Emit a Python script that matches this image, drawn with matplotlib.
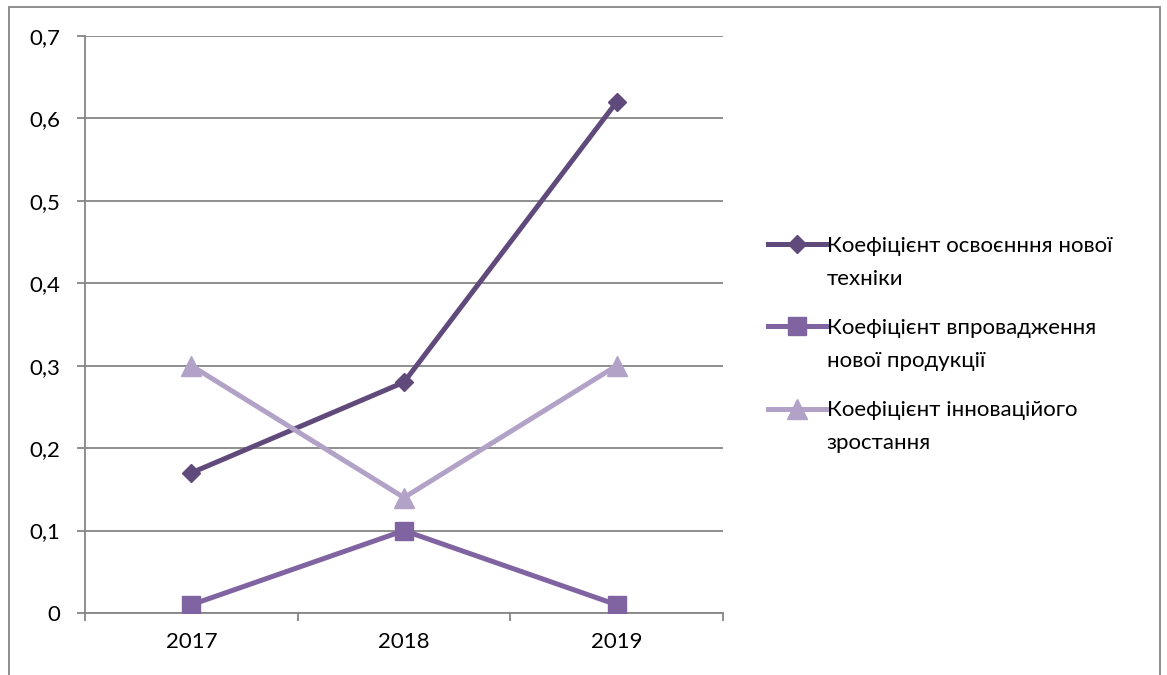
import matplotlib
matplotlib.use('Agg')
from matplotlib import pyplot as plt
from matplotlib.patches import Rectangle
from matplotlib.transforms import IdentityTransform

# дані з графіка
years = ['2017', '2018', '2019']
osvoennya = [0.17, 0.28, 0.62]
vprovadzh = [0.01, 0.10, 0.01]
innov = [0.30, 0.14, 0.30]
labels = ['Коефіцієнт освоєнння нової', 'Коефіцієнт впровадження', 'Коефіцієнт інноваційого']
labels2 = ['техніки', 'нової продукції', 'зростання']
y_ticks = [0, 0.1, 0.2, 0.3, 0.4, 0.5, 0.6, 0.7]

plt.rcParams['font.family'] = ['Lato', 'DejaVu Sans']

fig = plt.figure(figsize=(11.67, 6.75), dpi=100)
ax = fig.add_axes([85 / 1167, 1 - 613 / 675, (723 - 85) / 1167, (613 - 36) / 675])

x = [0.5, 1.5, 2.5]
ax.plot(x, osvoennya, color='#604A7B', lw=3.6, marker='D', ms=9, label=labels[0], zorder=3)
ax.plot(x, vprovadzh, color='#8064A2', lw=3.6, marker='s', ms=13, label=labels[1], zorder=3)
ax.plot(x, innov, color='#B3A2C7', lw=3.6, marker='^', ms=14, label=labels[2], zorder=3)

ax.set_xlim(0, 3)
ax.set_ylim(0, 0.7)
ax.set_yticks(y_ticks)
ax.set_yticklabels(['0' if v == 0 else ('%.1f' % v).replace('.', ',') for v in y_ticks])
ax.set_xticks([0, 1, 2, 3])
ax.set_xticks(x, minor=True)
ax.set_xticklabels([])
ax.set_xticklabels(years, minor=True)
ax.tick_params(axis='x', which='minor', length=0, labelsize=16, pad=14)
ax.tick_params(axis='x', which='major', length=6, direction='out', color='#868686', width=1.3)
ax.tick_params(axis='y', length=6, direction='out', color='#868686', width=1.3, labelsize=16, pad=12)
ax.grid(axis='y', color='#868686', lw=1.3)
for s in ['top', 'right']:
    ax.spines[s].set_visible(False)
ax.spines['left'].set_color('#868686')
ax.spines['bottom'].set_color('#868686')
ax.spines['left'].set_linewidth(1.3)
ax.spines['bottom'].set_linewidth(1.3)

# легенда: перший рядок підпису біля маркера, другий рядок окремо під ним
leg = fig.legend(loc='upper left', bbox_to_anchor=(748 / 1167, 1 - 216 / 675), frameon=False,
                 fontsize=16, handlelength=2.6, handletextpad=0.05, labelspacing=2.8)
fig.canvas.draw()
for t, extra in zip(leg.get_texts(), labels2):
    bb = t.get_window_extent()
    fig.text(bb.x0, bb.y0 - 33, extra, fontsize=16, transform=IdentityTransform(),
             ha='left', va='bottom')

# рамка навколо діаграми
fig.patches.append(Rectangle((9 / 1167, -0.01), (1160 - 9) / 1167, 1 - 7 / 675 + 0.01,
                             transform=fig.transFigure, fill=False, ec='#868686', lw=1.3))

plt.savefig('out.png', dpi=100)
